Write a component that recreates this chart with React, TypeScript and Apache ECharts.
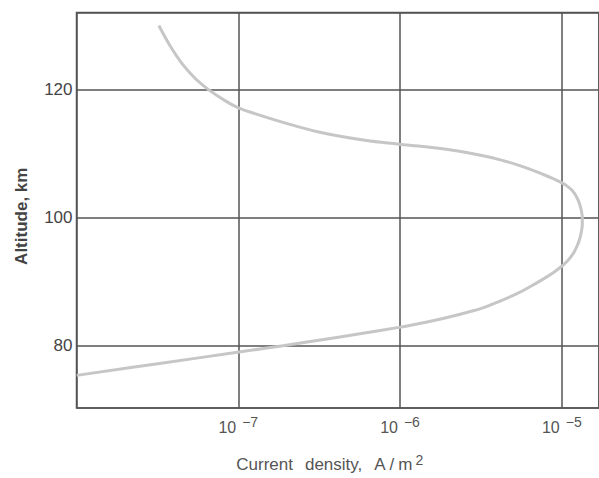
import React, { useEffect, useRef } from "react";
import * as echarts from "echarts";

// Current density (A/m^2) vs altitude (km)
const currentDensity: number[] = [
  3.23e-8, 3.755e-8, 4.532e-8, 5.481e-8, 6.613e-8, 7.98e-8, 9.87e-8, 1.281e-7, 1.867e-7,
  3.137e-7, 6.076e-7, 9.83e-7, 1.292e-6, 1.621e-6, 2.07e-6, 2.622e-6, 3.32e-6, 4.18e-6,
  5.32e-6, 6.39e-6, 7.76e-6, 8.85e-6, 9.82e-6, 1.0795e-5, 1.1668e-5, 1.2347e-5, 1.2882e-5,
  1.3216e-5, 1.3384e-5, 1.3384e-5, 1.3216e-5, 1.2918e-5, 1.247e-5, 1.1917e-5, 1.1256e-5,
  1.0568e-5, 9.82e-6, 8.85e-6, 7.76e-6, 6.39e-6, 5.32e-6, 4.18e-6, 3.32e-6, 2.622e-6,
  2.07e-6, 1.621e-6, 1.292e-6, 9.83e-7, 5.526e-7, 3.137e-7, 1.886e-7, 9.87e-8, 3.26e-8,
  1.003e-8,
];
const altitude: number[] = [
  130.0, 127.01, 123.92, 121.6, 119.9, 118.51, 117.22, 116.19, 114.91,
  113.36, 112.06, 111.46, 111.16, 110.89, 110.55, 110.13, 109.62, 109.0,
  108.23, 107.53, 106.68, 106.06, 105.52, 104.9, 104.13, 103.2, 102.12,
  101.04, 99.95, 98.87, 97.79, 96.71, 95.62, 94.62, 93.69,
  92.92, 92.22, 91.37, 90.44, 89.21, 88.13, 86.97, 85.96, 85.19,
  84.52, 83.9, 83.38, 82.82, 81.79, 80.81, 79.96, 78.93, 77.18,
  75.32,
];
const xTickExponents: Record<string, string> = {
  "-7": "−7",
  "-6": "−6",
  "-5": "−5",
};

export default function App() {
  const ref = useRef<HTMLDivElement>(null);
  useEffect(() => {
    if (!ref.current) return;
    const chart = echarts.init(ref.current, null, { renderer: "svg" });
    const gridColor = "#555";
    const font = "Liberation Sans";
    chart.setOption({
      animation: false,
      backgroundColor: "#fff",
      grid: {
        left: 76.5,
        top: 12.5,
        right: -3,
        bottom: 65.7,
        show: true,
        borderColor: gridColor,
        borderWidth: 1.5,
        backgroundColor: "transparent",
      },
      xAxis: {
        type: "log",
        logBase: 10,
        min: 1e-8,
        max: 1.698e-5,
        axisLine: { show: false },
        axisTick: { show: false },
        splitLine: { show: true, lineStyle: { color: gridColor, width: 1.5 } },
        axisLabel: {
          showMinLabel: false,
          showMaxLabel: false,
          margin: 7,
          formatter: (v: number) => {
            const lg = Math.log10(v);
            const e = Math.round(lg);
            if (Math.abs(lg - e) > 1e-6) return "";
            const s = xTickExponents[String(e)];
            if (!s) return "";
            return "{b|10}{s|" + s + "}";
          },
          rich: {
            b: { fontSize: 16, lineHeight: 20, verticalAlign: "bottom", color: "#555", fontFamily: font },
            s: { fontSize: 14, lineHeight: 14, verticalAlign: "top", color: "#555", fontFamily: font, padding: [0, 0, 0, 6] },
          },
        },
        name: "{a|Current}{b|density,}{b|A}{c|/}{a|m}{s|2}",
        nameLocation: "middle",
        nameGap: 45,
        nameTextStyle: {
          padding: [0, 16, 0, 0],
          rich: {
            a: { fontSize: 17, lineHeight: 20, verticalAlign: "bottom", color: "#555", fontFamily: font },
            b: { fontSize: 17, lineHeight: 20, verticalAlign: "bottom", color: "#555", fontFamily: font, padding: [0, 0, 0, 12] },
            c: { fontSize: 17, lineHeight: 20, verticalAlign: "bottom", color: "#555", fontFamily: font, padding: [0, 4, 0, 4] },
            s: { fontSize: 14, lineHeight: 14, verticalAlign: "top", color: "#555", fontFamily: font, padding: [0, 0, 0, 3] },
          },
        },
      },
      yAxis: {
        type: "value",
        min: 70.22,
        max: 132.04,
        minInterval: 20,
        maxInterval: 20,
        axisLine: { show: false },
        axisTick: { show: false },
        splitLine: { show: true, lineStyle: { color: gridColor, width: 1.5 } },
        axisLabel: {
          showMinLabel: false,
          showMaxLabel: false,
          margin: 4,
          fontSize: 17,
          color: "#444",
          fontFamily: font,
        },
        name: "Altitude, km",
        nameLocation: "middle",
        nameGap: 47,
        nameTextStyle: {
          fontSize: 17,
          fontWeight: "bold",
          color: "#444",
          fontFamily: font,
          padding: [0, 12, 0, 0],
        },
      },
      series: [
        {
          type: "line",
          data: currentDensity.map((j, i) => [j, altitude[i]]),
          smooth: 0.4,
          showSymbol: false,
          lineStyle: { color: "#c6c6c6", width: 3 },
          clip: true,
        },
      ],
    });
    return () => chart.dispose();
  }, []);
  return (
    <div
      ref={ref}
      style={{ position: "fixed", left: 0, top: 0, width: 599, height: 478 }}
    />
  );
}
